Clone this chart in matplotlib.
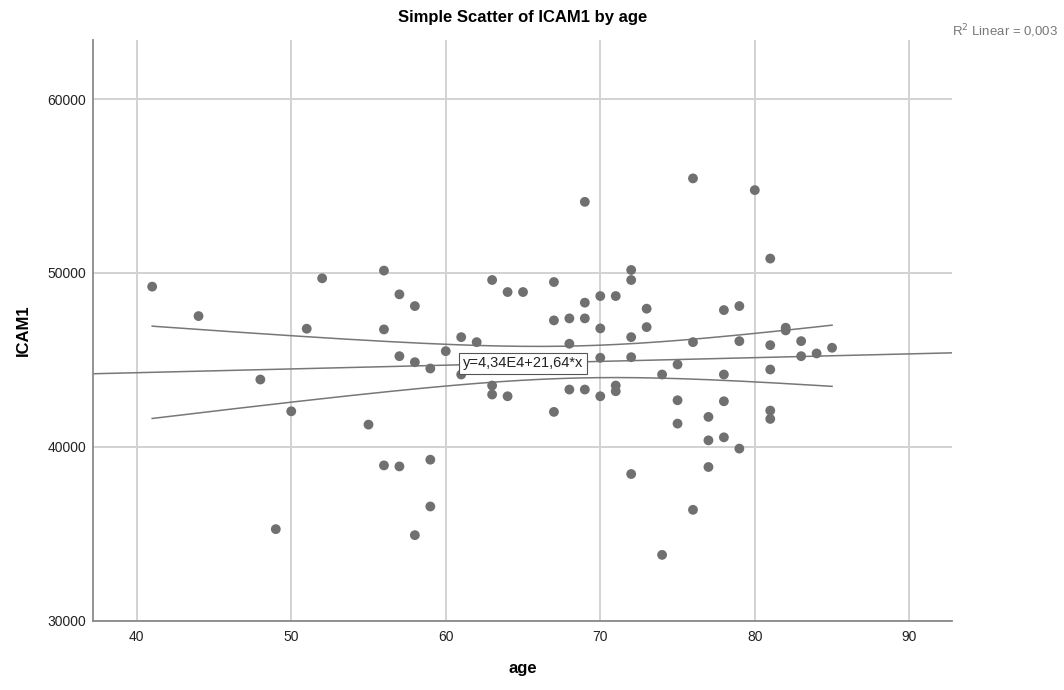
import matplotlib
matplotlib.use('Agg')
import matplotlib.pyplot as plt
import numpy as np

# Data
age = [41, 44, 48, 49, 50, 51, 52, 55, 56, 56, 56, 57, 57, 57, 58, 58, 58,
       59, 59, 59, 60, 61, 61, 62, 63, 63, 63, 64, 64, 65, 67, 67, 67, 68,
       68, 68, 69, 69, 69, 69, 70, 70, 70, 70, 71, 71, 71, 72, 72, 72, 72,
       72, 73, 73, 74, 74, 75, 75, 75, 76, 76, 76, 77, 77, 77, 78, 78, 78,
       78, 79, 79, 79, 80, 81, 81, 81, 81, 81, 82, 82, 83, 83, 84, 85]
icam1 = [49216, 47522, 43873, 35268, 42046, 46795, 49695, 41280, 50138, 46755,
         38934, 48772, 45216, 38876, 48098, 44870, 34922, 44507, 39262, 36571,
         45504, 46311, 44161, 46023, 49597, 43527, 43010, 48905, 42911, 48905,
         49481, 47274, 42011, 47389, 45931, 43297, 54092, 48294, 47389, 43297,
         48674, 46813, 45124, 42911, 48674, 43527, 43199, 50173, 49597, 46311,
         45159, 38438, 47948, 46888, 44161, 33787, 44738, 42680, 41337, 55441,
         46023, 36380, 41723, 40375, 38841, 47867, 44161, 42622, 40548, 48098,
         46081, 39900, 54767, 50830, 45850, 44449, 42086, 41608, 46853, 46697,
         46081, 45216, 45372, 45700]

intercept = 43400.0
slope = 21.64
r2_text = "0,003"

x_ticks = [40, 50, 60, 70, 80, 90]
y_ticks = [30000, 40000, 50000, 60000]

plt.rcParams['font.family'] = ['Liberation Sans', 'DejaVu Sans']

fig = plt.figure(figsize=(10.64, 6.90), dpi=100)
ax = fig.add_axes([0.0877, 0.1004, 0.8070, 0.8416])

x = np.array(age, dtype=float)
y = np.array(icam1, dtype=float)

ax.set_xlim(37.19, 92.76)
ax.set_ylim(30000, 63400)

# grid
ax.set_xticks(x_ticks)
ax.set_yticks(y_ticks)
ax.grid(True, color='#d2d2d2', linewidth=1.4)
ax.set_axisbelow(True)

# fit line over the whole axis
xl = np.array(ax.get_xlim())
ax.plot(xl, intercept + slope * xl, color='#777777', linewidth=1.1, zorder=2)

# 95% confidence band of the mean
n = len(x)
resid = y - (intercept + slope * x)
s = np.sqrt(np.sum(resid ** 2) / (n - 2))
xb = np.linspace(x.min(), x.max(), 200)
se = s * np.sqrt(1.0 / n + (xb - x.mean()) ** 2 / np.sum((x - x.mean()) ** 2))
t = 1.989
yb = intercept + slope * xb
ax.plot(xb, yb + t * se, color='#777777', linewidth=1.1, zorder=2)
ax.plot(xb, yb - t * se, color='#777777', linewidth=1.1, zorder=2)

ax.scatter(x, y, s=50, color='#707070', edgecolors='none', zorder=3)

ax.text(65, intercept + slope * 65, 'y=4,34E4+21,64*x', fontsize=10.5,
        ha='center', va='center', color='#222222', zorder=4,
        bbox=dict(boxstyle='square,pad=0.25', facecolor='white',
                  edgecolor='#555555', linewidth=0.8))

for side in ['top', 'right']:
    ax.spines[side].set_visible(False)
for side in ['left', 'bottom']:
    ax.spines[side].set_color('#8a8a8a')
    ax.spines[side].set_linewidth(1.3)

ax.tick_params(length=0, labelsize=10, colors='#222222')
ax.tick_params(axis='y', pad=5)
ax.tick_params(axis='x', pad=7)

ax.set_title('Simple Scatter of ICAM1 by age', fontsize=12,
             fontweight='bold', pad=13)
ax.set_xlabel('age', fontsize=12, fontweight='bold')
ax.set_ylabel('ICAM1', fontsize=12, fontweight='bold')
ax.xaxis.set_label_coords(0.5, -0.069)
ax.yaxis.set_label_coords(-0.073, 0.5)

fig.text(0.895, 0.955, r'R$^2$ Linear = ' + r2_text, fontsize=9.5,
         color='#777777', ha='left', va='center')

fig.savefig('out.png', dpi=100)
plt.close(fig)
